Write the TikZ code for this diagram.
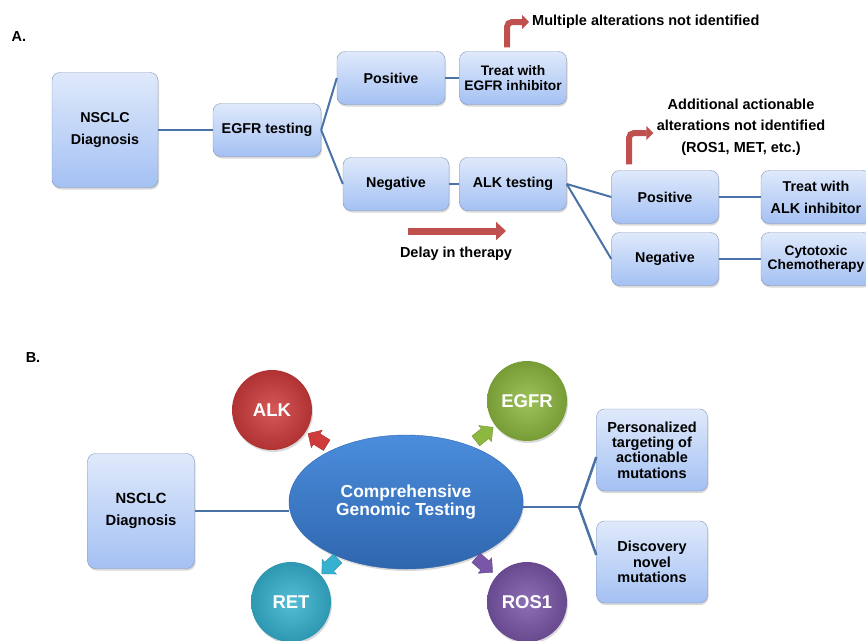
\documentclass[tikz,border=0pt]{standalone}
\usepackage{fontspec}
\setmainfont{Liberation Sans}
\usetikzlibrary{shapes.geometric,shapes.arrows,shadows,arrows.meta}
\definecolor{boxtop}{HTML}{DFE9FB}
\definecolor{boxbot}{HTML}{A4C1F3}
\definecolor{boxline}{HTML}{8394B4}
\definecolor{linkblue}{HTML}{4A72A6}
\definecolor{alertred}{HTML}{C0504D}
\definecolor{cgttop}{HTML}{4B8DDC}
\definecolor{cgtbot}{HTML}{2F66AE}
\definecolor{alkred}{HTML}{CF3B3B}
\definecolor{egfrgreen}{HTML}{8DB83F}
\definecolor{retcyan}{HTML}{36B2D0}
\definecolor{rospurple}{HTML}{7A56A8}
\begin{document}
\begin{tikzpicture}[x=1pt,y=-1pt,
  box/.style={rounded corners=8pt, draw=boxline, top color=boxtop, bottom color=boxbot,
    drop shadow={opacity=.3, shadow xshift=1pt, shadow yshift=-2pt},
    minimum width=107pt, minimum height=53pt, inner sep=2pt, align=center,
    font=\bfseries\fontsize{14.3}{22}\selectfont},
  tight/.style={font=\bfseries\fontsize{13.8}{14.5}\selectfont},
  note/.style={font=\bfseries\fontsize{14.5}{21.5}\selectfont, align=center},
  boxB/.style={box, minimum width=111pt, minimum height=82pt, font=\bfseries\fontsize{14.5}{15.3}\selectfont},
  link/.style={draw=linkblue, line width=2pt},
  alert/.style={draw=alertred, line width=6pt, rounded corners=5pt, -{Triangle[length=7pt,width=14pt]}},
  marker/.style={circle, minimum size=80pt, inner sep=0pt, text=white,
    inner color=#1!85!white, outer color=#1!85!black,
    font=\bfseries\fontsize{18.5}{18.5}\selectfont,
    drop shadow={opacity=.3, shadow xshift=1pt, shadow yshift=-2pt}},
  pointer/.style={single arrow, minimum height=22pt, inner sep=6pt, single arrow head extend=4pt,
    fill=#1, draw=#1!80!black, line width=.4pt}
]
\useasboundingbox (0,0) rectangle (866,640);

\node[font=\bfseries\fontsize{14.5}{14.5}\selectfont] (labA) at (19,37) {A.};
\node[box, minimum width=106pt, minimum height=115pt] (diagA) at (105,130) {NSCLC\\Diagnosis};
\node[box, minimum width=108pt] (egfrT) at (267,130) {EGFR testing};
\node[box, minimum width=108pt] (posE) at (391,78) {Positive};
\node[box, minimum width=106pt] (negE) at (396,184) {Negative};
\node[box, tight] (treatE) at (513,78) {Treat with\\EGFR inhibitor};
\node[box] (alkT) at (513,184) {ALK testing};
\node[box] (posA) at (665,197) {Positive};
\node[box] (negA) at (665,259) {Negative};
\node[box, minimum width=110pt] (treatA) at (816,197) {Treat with\\ALK inhibitor};
\node[box, tight, minimum width=110pt] (cyto) at (816,259) {Cytotoxic\\Chemotherapy};

\node[note, anchor=west, inner sep=3pt] (multi) at (529,22) {Multiple alterations not identified};
\node[note] (addl) at (741,127) {Additional actionable\\alterations not identified\\(ROS1, MET, etc.)};
\node[note] (delay) at (456,254) {Delay in therapy};
\coordinate (dStart) at (408,231);
\coordinate (dEnd) at (506,231);

\draw[link] (diagA) -- (egfrT);
\draw[link] (egfrT.east) -- (posE.west);
\draw[link] (egfrT.east) -- (negE.west);
\draw[link] (posE) -- (treatE);
\draw[link] (negE) -- (alkT);
\draw[link] (alkT.east) -- (posA.west);
\draw[link] (alkT.east) -- (negA.west);
\draw[link] (posA) -- (treatA);
\draw[link] (negA) -- (cyto);

\draw[alert] ([xshift=-6pt,yshift=4pt]treatE.north) |- (multi.west);
\draw[alert] ([xshift=-36pt,yshift=6pt]posA.north) |- ([yshift=-6pt]addl.west);
\draw[draw=alertred, line width=7pt, -{Triangle[length=10pt,width=18pt]}] (dStart) -- (dEnd);

\node[font=\bfseries\fontsize{14.5}{14.5}\selectfont] (labB) at (33,358) {B.};
\node[boxB, minimum width=107pt, minimum height=115pt, font=\bfseries\fontsize{14.8}{21.5}\selectfont] (diagB) at (141,511) {NSCLC\\Diagnosis};
\node[ellipse, minimum width=234pt, minimum height=134pt, inner sep=0pt, draw=cgtbot,
  top color=cgttop, bottom color=cgtbot, text=white, align=center,
  font=\bfseries\fontsize{17.4}{18}\selectfont,
  drop shadow={opacity=.3, shadow xshift=1pt, shadow yshift=-2pt}] (cgt) at (406,502) {Comprehensive\\Genomic Testing};
\node[marker=alkred] (alk) at (272,410) {ALK};
\node[marker=egfrgreen] (egfr) at (527,401) {EGFR};
\node[marker=retcyan] (ret) at (291,602) {RET};
\node[marker=rospurple] (ros) at (527,602) {ROS1};
\node[boxB] (pers) at (652,450) {Personalized\\targeting of\\actionable\\mutations};
\node[boxB] (disc) at (652,562) {Discovery\\novel\\mutations};

\node[pointer=alkred, rotate=148] (pAlk) at (320,441) {};
\node[pointer=egfrgreen, rotate=38] (pEgfr) at (482,436) {};
\node[pointer=retcyan, rotate=224] (pRet) at (332,564) {};
\node[pointer=rospurple, rotate=-41] (pRos) at (482,563) {};

\coordinate (fork) at (579,507);
\draw[link, line width=2.5pt] (diagB.east) -- (diagB.east -| cgt.west);
\draw[link, line width=2.5pt] (fork -| cgt.east) -- (fork);
\draw[link, line width=2.5pt] (fork) -- ([yshift=-7pt]pers.west);
\draw[link, line width=2.5pt] (fork) -- ([yshift=7pt]disc.west);
\end{tikzpicture}
\end{document}
